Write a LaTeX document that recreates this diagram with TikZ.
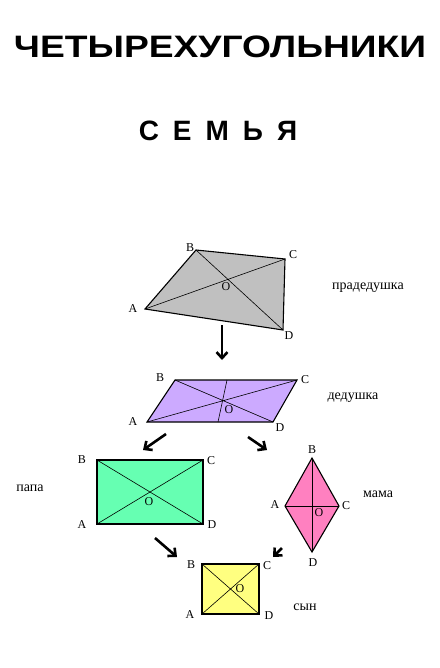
\documentclass[tikz,border=0pt]{standalone}
\usepackage{fontspec}
\usepackage{graphicx}
\setmainfont{Liberation Sans}
\newfontfamily\labelfont{Liberation Serif}
\usetikzlibrary{arrows.meta}
\definecolor{QuadGray}{HTML}{C0C0C0}
\definecolor{QuadLilac}{HTML}{CCAAFF}
\definecolor{QuadMint}{HTML}{66FFB2}
\definecolor{QuadPink}{HTML}{FF80C0}
\definecolor{QuadYellow}{HTML}{FFFF80}

\begin{document}
\begin{tikzpicture}[
  x=1pt, y=-1pt,
  figure/.style={draw=black, line width=1.1pt},
  diag/.style={draw=black, line width=0.6pt},
  vlabel/.style={font=\labelfont\fontsize{12}{12}\selectfont, inner sep=0pt},
  kinname/.style={font=\labelfont\fontsize{14}{14}\selectfont, inner sep=0pt},
  kin/.style={-{Straight Barb[length=6pt, width=11pt]}, line width=2.6pt}
]
\useasboundingbox[fill=white] (0,0) rectangle (439,668);
\node[font=\fontsize{31}{31}\selectfont\bfseries] (title) at (220,47) {\scalebox{1.2}[1]{ЧЕТЫРЕХУГОЛЬНИКИ}};
\node[font=\fontsize{28}{28}\selectfont\bfseries] (family) at (218,131) {С\,\,\,Е\,\,\,М\,\,\,Ь\,\,\,Я};
% great-grandfather
\coordinate (pA) at (145,309); \coordinate (pB) at (196,250);
\coordinate (pC) at (285,259); \coordinate (pD) at (283,330);
\filldraw[figure, fill=QuadGray] (pA) -- (pB) -- (pC) -- (pD) -- cycle;
\draw[diag] (pA) -- (pC) (pB) -- (pD);
\foreach \v/\x/\y in {A/133/309, B/190/248, C/293/255, D/289/336, O/226/287}
  \node[vlabel] (plbl\v) at (\x,\y) {\v};
\node[kinname] (praded) at (368,288) {прадедушка};
% grandfather
\coordinate (dA) at (147,422); \coordinate (dB) at (175,380);
\coordinate (dC) at (297,380); \coordinate (dD) at (273,422);
\coordinate (dE) at (227,380); \coordinate (dF) at (218,422);
\filldraw[figure, fill=QuadLilac] (dA) -- (dB) -- (dC) -- (dD) -- cycle;
\draw[diag] (dA) -- (dC) (dB) -- (dD) (dE) -- (dF);
\foreach \v/\x/\y in {A/133/422, B/160/378, C/305/380, D/280/428, O/229/410}
  \node[vlabel] (dlbl\v) at (\x,\y) {\v};
\node[kinname] (ded) at (353,398) {дедушка};
% father
\coordinate (fA) at (97,524); \coordinate (fB) at (97,460);
\coordinate (fC) at (203,460); \coordinate (fD) at (203,524);
\filldraw[figure, fill=QuadMint] (fA) -- (fB) -- (fC) -- (fD) -- cycle;
\draw[diag] (fA) -- (fC) (fB) -- (fD);
\foreach \v/\x/\y in {A/82/525, B/82/460, C/211/461, D/212/525, O/149/502}
  \node[vlabel] (flbl\v) at (\x,\y) {\v};
\node[kinname] (papa) at (30,488) {папа};
% mother
\coordinate (mA) at (285,506); \coordinate (mB) at (312,458);
\coordinate (mC) at (339,506); \coordinate (mD) at (312,552);
\filldraw[figure, fill=QuadPink] (mA) -- (mB) -- (mC) -- (mD) -- cycle;
\draw[diag] (mA) -- (mC) (mB) -- (mD);
\foreach \v/\x/\y in {A/275/505, B/312/450, C/346/506, D/313/563, O/319/513}
  \node[vlabel] (mlbl\v) at (\x,\y) {\v};
\node[kinname] (mama) at (378,494) {мама};
% son
\coordinate (sA) at (202,614); \coordinate (sB) at (202,564);
\coordinate (sC) at (259,564); \coordinate (sD) at (259,614);
\filldraw[figure, fill=QuadYellow] (sA) -- (sB) -- (sC) -- (sD) -- cycle;
\draw[diag] (sA) -- (sC) (sB) -- (sD);
\foreach \v/\x/\y in {A/190/615, B/191/565, C/267/566, D/269/616, O/240/589}
  \node[vlabel] (slbl\v) at (\x,\y) {\v};
\node[kinname] (syn) at (305,607) {сын};
% arrows
\foreach \i/\sx/\sy/\ex/\ey in {1/222/325/222/360, 2/166/434/143/450, 3/248/437/267/450,
  4/155/538/177/557, 5/282/548/273/557}{
  \coordinate (as\i) at (\sx,\sy);
  \coordinate (ae\i) at (\ex,\ey);
  \draw[kin] (as\i) -- (ae\i);
}
\end{tikzpicture}
\end{document}
